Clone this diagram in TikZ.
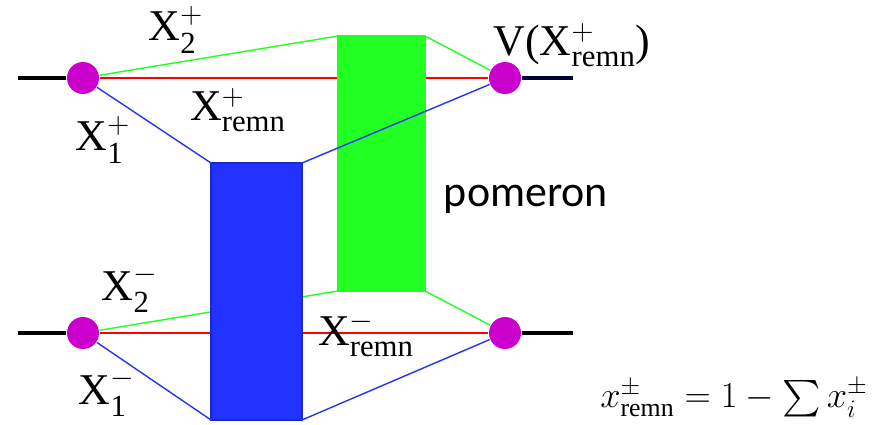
\documentclass[tikz,border=0pt]{standalone}
\usepackage{fontspec}
\setmainfont{Liberation Serif}
\newfontfamily\pomfont{Carlito}
\usepackage{amsmath}
\usetikzlibrary{positioning, backgrounds}

\definecolor{dotmag}{HTML}{CC00CC}
\definecolor{pomgreen}{HTML}{22FF22}
\definecolor{pomblue}{HTML}{2233FF}
\definecolor{stubnavy}{HTML}{000033}

% label X with sub- and superscript
\newcommand{\xlab}[2]{X$^{#2}_{\mathrm{#1}}$}

\begin{document}
\begin{tikzpicture}[x=0.02cm, y=-0.02cm,
    % thin coloured lines between the vertices
    every path/.style={line width=0.8pt},
    dot/.style={circle, fill=dotmag, minimum size=0.64cm, inner sep=0pt},
    stub/.style={line width=2.4pt, black},
    gbox/.style={fill=pomgreen, draw=pomgreen, minimum width=1.74cm, minimum height=5.1cm, inner sep=0pt, outer sep=0pt},
    bbox/.style={fill=pomblue, draw=pomblue!80!black, minimum width=1.82cm, minimum height=5.14cm, inner sep=0pt, outer sep=0pt},
    lab/.style={font=\fontsize{25}{30}\selectfont, inner sep=1pt}
  ]
  \useasboundingbox (0,0) rectangle (884,425);

  % --- Vertices ---
  \node[dot] (pl) at (83,78) {};
  \node[dot] (pr) at (505,78) {};
  \node[dot] (ql) at (83,333) {};
  \node[dot] (qr) at (505,333) {};

  % free ends of the black lines
  \coordinate (pin) at (18,78);
  \coordinate (pout) at (573,78);
  \coordinate (qin) at (18,333);
  \coordinate (qout) at (573,333);

  % --- Pomerons ---
  \node[gbox] (gp) at (381.5,163.5) {};
  \node[bbox] (bp) at (256.5,291.5) {};

  % --- Remnant and green lines (behind the boxes) ---
  \begin{scope}[on background layer]
    \draw[red] (pl) -- (pr);
    \draw[red] (ql) -- (qr);
    \draw[pomgreen] (pl) -- (gp.north west);
    \draw[pomgreen] (gp.north east) -- (pr);
    \draw[pomgreen] (ql) -- (gp.south west);
    \draw[pomgreen] (gp.south east) -- (qr);
  \end{scope}

  % --- Blue lines ---
  \draw[pomblue] (pl) -- (bp.north west);
  \draw[pomblue] (bp.north east) -- (pr);
  \draw[pomblue] (ql) -- (bp.south west);
  \draw[pomblue] (bp.south east) -- (qr);

  % --- Black lines ---
  \draw[stub] (pin) -- (pl);
  \draw[stub, stubnavy] (pr) -- (pout);
  \draw[stub] (qin) -- (ql);
  \draw[stub] (qr) -- (qout);

  % --- Labels ---
  \node[lab] (l2p) at (176,30) {\xlab{2}{+}};
  \node[lab] (l1p) at (103,140) {\xlab{1}{+}};
  \node[lab] (lrp) at (238,110) {\xlab{remn}{+}};
  \node[lab] (lv) at (572,45) {V(\xlab{remn}{+})};
  \node[lab] (l2m) at (130,289) {\xlab{2}{-}};
  \node[lab] (l1m) at (107,393) {\xlab{1}{-}};
  \node[lab] (lrm) at (366,334) {\xlab{remn}{-}};
  \node[font=\pomfont\fontsize{25}{30}\selectfont] (pom) at (526,199) {pomeron};
  \node[font=\fontsize{21}{25}\selectfont] (form) at (734,398)
    {$x^{\pm}_{\mathrm{remn}} = 1 - \sum x^{\pm}_{i}$};
\end{tikzpicture}
\end{document}
